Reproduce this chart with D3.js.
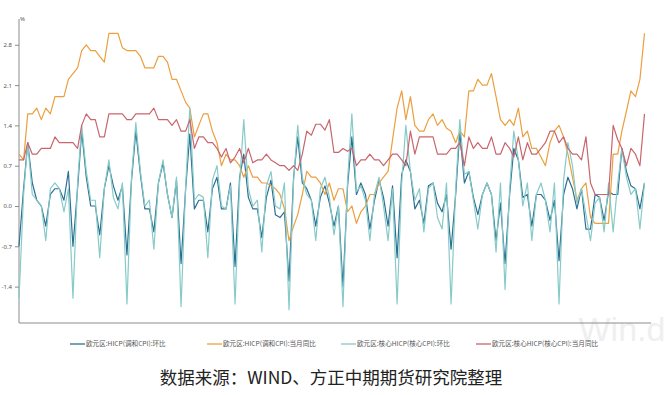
<!DOCTYPE html>
<html>
<head>
<meta charset="utf-8">
<script src="https://cdn.jsdelivr.net/npm/d3@7"></script>
<style>
  body { margin: 0; background: #fff; }
  svg { display: block; }
  .axis path, .axis line { stroke: #8c8c8c; }
  .axis text { fill: #555; font-family: "Noto Sans", "DejaVu Sans", sans-serif; font-size: 6px; }
</style>
</head>
<body>
<div id="chart"></div>
<script>
// monthly, 2010-01 .. 2021-08
var startMonth = "2010-01";
var monthCount = 140;

var hicpMom = [
  -0.7, 0.3, 1.1, 0.4, 0.1, 0.0, -0.35, 0.2, 0.3, 0.3, 0.1, 0.6,
  -0.7, 0.3, 1.3, 0.5, 0.0, 0.0, -0.5, 0.3, 0.7, 0.35, 0.1, 0.35,
  -0.85, 0.45, 1.3, 0.55, -0.05, -0.05, -0.45, 0.4, 0.75, 0.2, -0.2, 0.45,
  -1.0, 0.3, 1.25, -0.05, 0.1, 0.1, -0.45, 0.3, 0.5, -0.05, -0.05, 0.4,
  -1.05, 0.5, 0.9, 0.15, -0.05, -0.05, -0.55, 0.15, 0.45, -0.15, -0.2, -0.1,
  -1.3, 0.5, 1.2, 0.4, 0.3, 0.1, -0.35, 0.15, 0.35, 0.05, -0.35, 0.0,
  -1.4, 0.35, 1.2, 0.2, 0.4, 0.2, -0.4, 0.1, 0.45, 0.15, -0.35, 0.35,
  -0.9, 0.55, 0.8, 0.6, -0.05, 0.1, -0.3, 0.35, 0.4, 0.05, -0.1, 0.2,
  -0.75, 0.2, 1.3, 0.4, 0.6, 0.15, -0.15, 0.2, 0.4, 0.2, -0.6, 0.05,
  -1.0, 0.2, 1.0, 0.8, 0.15, 0.2, -0.35, 0.2, 0.2, 0.1, -0.25, 0.1,
  -0.95, 0.2, 0.5, 0.3, -0.05, 0.3, -0.4, -0.4, 0.2, 0.15, -0.25, 0.25,
  0.2, 0.2, 1.0, 0.6, 0.35, 0.3, -0.05, 0.4
];

var hicpYoy = [
  0.9, 0.8, 1.6, 1.6, 1.7, 1.5, 1.7, 1.6, 1.9, 1.9, 1.9, 2.2,
  2.3, 2.4, 2.7, 2.8, 2.7, 2.7, 2.6, 2.5, 3.0, 3.0, 3.0, 2.75,
  2.7, 2.7, 2.7, 2.6, 2.4, 2.4, 2.4, 2.6, 2.6, 2.5, 2.2, 2.2,
  2.0, 1.8, 1.7, 1.2, 1.4, 1.6, 1.6, 1.3, 1.1, 0.7, 0.9, 0.8,
  0.8, 0.7, 0.5, 0.7, 0.5, 0.5, 0.4, 0.4, 0.35, 0.3, 0.2, -0.05,
  -0.6, -0.35, -0.15, 0.2, 0.6, 0.5, 0.5, 0.4, 0.2, 0.4, 0.1, 0.3,
  0.3, -0.1, 0.0, -0.3, -0.1, 0.0, 0.2, 0.2, 0.4, 0.5, 0.6, 1.15,
  1.7, 2.0, 1.5, 1.9, 1.4, 1.3, 1.3, 1.5, 1.6, 1.4, 1.5, 1.35,
  1.3, 1.1, 1.3, 1.2, 2.0, 2.0, 2.2, 2.1, 2.1, 2.3, 1.9, 1.5,
  1.4, 1.5, 1.4, 1.7, 1.2, 1.3, 1.0, 1.0, 0.85, 0.7, 1.1, 1.3,
  1.4, 1.2, 0.9, 0.5, 0.1, 0.3, 0.4, -0.2, -0.3, -0.3, -0.3, -0.3,
  0.9, 0.9, 1.3, 1.65, 2.0, 1.9, 2.2, 3.0
];

var coreMom = [
  -1.6, 0.2, 1.1, 0.2, 0.1, 0.0, -0.6, 0.3, 0.4, 0.3, -0.1, 0.3,
  -1.6, 0.4, 1.4, 0.6, 0.1, 0.1, -0.9, 0.3, 0.8, 0.15, -0.05, 0.4,
  -1.7, 0.5, 1.45, 0.6, 0.0, 0.1, -0.75, 0.4, 0.8, 0.2, -0.2, 0.5,
  -1.75, 0.35, 1.7, 0.1, 0.2, 0.15, -0.9, 0.45, 0.7, 0.0, -0.05, 0.35,
  -1.7, 0.4, 1.5, 0.3, 0.0, 0.1, -0.8, 0.35, 0.6, 0.0, -0.05, 0.4,
  -1.8, 0.45, 1.4, 0.5, 0.2, 0.1, -0.6, 0.3, 0.5, 0.15, -0.5, 0.0,
  -1.75, 0.45, 1.6, 0.25, 0.35, 0.1, -0.6, 0.2, 0.5, 0.0, -0.6, 0.3,
  -1.7, 0.4, 1.4, 0.6, 0.1, 0.3, -0.45, 0.3, 0.4, -0.2, -0.4, 0.4,
  -1.7, 0.3, 1.5, 0.55, 0.6, 0.1, -0.4, 0.2, 0.4, 0.2, -0.8, 0.4,
  -1.45, 0.3, 1.3, 0.8, 0.0, 0.4, -0.6, 0.2, 0.4, 0.1, -0.45, 0.4,
  -1.7, 0.45, 1.1, 0.7, 0.05, 0.3, -0.15, -0.6, 0.05, 0.15, -0.45, 0.4,
  -0.45, 0.4, 1.0, 0.5, 0.2, 0.3, -0.4, 0.4
];

var coreYoy = [
  0.8, 0.8, 1.1, 0.9, 0.9, 1.0, 1.0, 1.0, 1.2, 1.1, 1.1, 1.1,
  1.1, 1.0, 1.4, 1.6, 1.5, 1.5, 1.2, 1.2, 1.6, 1.6, 1.6, 1.6,
  1.5, 1.5, 1.6, 1.6, 1.6, 1.6, 1.7, 1.5, 1.5, 1.5, 1.4, 1.5,
  1.3, 1.3, 1.5, 1.0, 1.2, 1.2, 1.1, 1.1, 1.0, 0.85, 1.0, 0.75,
  0.85, 1.0, 0.75, 1.0, 0.75, 0.8, 0.8, 0.9, 0.8, 0.75, 0.7, 0.7,
  0.62, 0.7, 0.62, 0.9, 1.3, 1.23, 1.42, 1.42, 1.32, 1.5, 0.93, 0.93,
  1.0, 0.95, 1.0, 0.7, 0.8, 0.8, 0.9, 0.8, 0.8, 0.7, 0.8, 0.9,
  0.9, 0.8, 0.7, 1.3, 0.9, 1.2, 1.2, 1.2, 1.2, 0.9, 0.9, 0.9,
  1.0, 1.0, 1.1, 0.7, 1.2, 1.0, 1.1, 1.0, 1.0, 1.2, 0.9, 0.9,
  1.1, 1.0, 0.85, 1.2, 0.8, 1.1, 0.9, 0.9, 1.0, 1.1, 1.3, 1.3,
  1.1, 1.2, 1.0, 0.9, 0.9, 0.8, 1.2, 0.4, 0.2, 0.2, 0.2, 0.2,
  1.4, 1.15, 1.0, 0.7, 1.0, 0.9, 0.7, 1.6
];

var seriesNames = [
  "欧元区:HICP(调和CPI):环比",
  "欧元区:HICP(调和CPI):当月同比",
  "欧元区:核心HICP(核心CPI):环比",
  "欧元区:核心HICP(核心CPI):当月同比"
];
var seriesColors = ["#2c6f93", "#eb9f3f", "#86cbc8", "#c9656d"];
var yTicks = [-1.4, -0.7, 0.0, 0.7, 1.4, 2.1, 2.8];
var sourceNote = "数据来源：WIND、方正中期期货研究院整理";

var width = 672, height = 395;

var svg = d3.select("#chart").append("svg")
  .attr("width", width)
  .attr("height", height);

svg.append("rect").attr("width", width).attr("height", height).attr("fill", "#fff");

// faint watermark, sits behind everything
svg.append("text")
  .attr("x", 622).attr("y", 341)
  .attr("text-anchor", "middle")
  .attr("font-family", "Liberation Sans, Arial, sans-serif")
  .attr("font-size", 34)
  .attr("fill", "#efefef")
  .text("Win.d");

var parseMonth = d3.timeParse("%Y-%m");
var t0 = parseMonth(startMonth);
var months = d3.range(monthCount).map(function(i) { return d3.timeMonth.offset(t0, i); });

var x = d3.scaleTime()
  .domain([t0, months[monthCount - 1]])
  .range([19, 644.5]);

var y = d3.scaleLinear()
  .domain([-2.032, 3.248])
  .range([323, 19]);

// axes
var xTickDates = d3.timeMonth.every(3).range(t0, d3.timeMonth.offset(t0, monthCount + 1))
  .filter(function(d) { return d.getMonth() % 3 === 2; });

var xAxis = d3.axisBottom(x)
  .tickValues(xTickDates)
  .tickSize(4)
  .tickSizeOuter(0)
  .tickFormat(function(d) { return d.getMonth() === 11 ? d3.timeFormat("%y-%m")(d) : ""; });

var gx = svg.append("g").attr("class", "axis")
  .attr("transform", "translate(0,323)")
  .call(xAxis);
gx.select(".domain").attr("d", "M19,0H651");
gx.selectAll("text").attr("dy", "0.9em");

var yAxis = d3.axisLeft(y)
  .tickValues(yTicks)
  .tickSize(4)
  .tickSizeOuter(0)
  .tickFormat(function(d) { return d.toFixed(1); });

var gy = svg.append("g").attr("class", "axis")
  .attr("transform", "translate(19,0)")
  .call(yAxis);
gy.select(".domain").attr("d", "M0,19V323");

svg.append("text")
  .attr("x", 20).attr("y", 21)
  .attr("font-family", "Noto Sans, sans-serif")
  .attr("font-size", 6)
  .attr("fill", "#555")
  .text("%");

// lines
var allSeries = [hicpMom, hicpYoy, coreMom, coreYoy];

var line = d3.line()
  .x(function(d, i) { return x(months[i]); })
  .y(function(d) { return y(d); });

svg.append("g")
  .selectAll("path")
  .data(allSeries)
  .enter().append("path")
  .attr("d", line)
  .attr("fill", "none")
  .attr("stroke", function(d, i) { return seriesColors[i]; })
  .attr("stroke-width", 1.2)
  .attr("stroke-linejoin", "round");

// legend
var legendX = [70, 207, 341, 476];
var legend = svg.append("g")
  .selectAll("g")
  .data(seriesNames)
  .enter().append("g")
  .attr("transform", function(d, i) { return "translate(" + legendX[i] + ",344)"; });

legend.append("line")
  .attr("x1", 0).attr("x2", 15)
  .attr("stroke", function(d, i) { return seriesColors[i]; })
  .attr("stroke-width", 1.3);

legend.append("text")
  .attr("x", 16).attr("dy", "0.35em")
  .attr("font-family", "Noto Sans CJK SC, sans-serif")
  .attr("font-size", 6.6)
  .attr("fill", "#555")
  .text(function(d) { return d; });

svg.append("text")
  .attr("x", 331).attr("y", 384)
  .attr("text-anchor", "middle")
  .attr("font-family", "Noto Sans CJK SC, sans-serif")
  .attr("font-size", 17.5)
  .attr("fill", "#222")
  .text(sourceNote);
</script>
</body>
</html>
